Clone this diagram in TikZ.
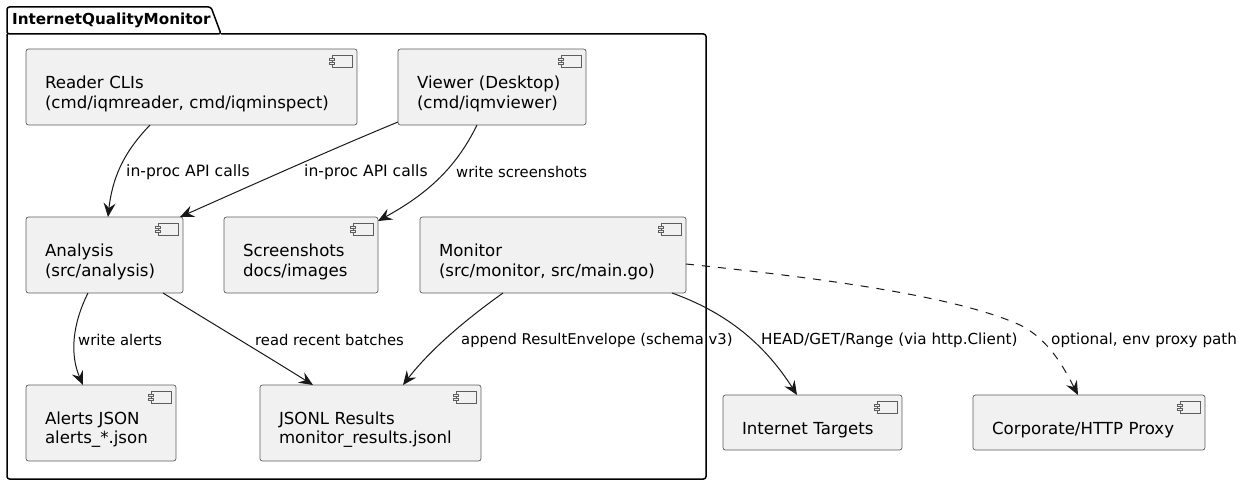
\documentclass[tikz,border=0pt]{standalone}
\usepackage{fontspec}
\setmainfont{DejaVu Sans}
\usetikzlibrary{arrows.meta,calc}
\definecolor{ink}{HTML}{181818}
\definecolor{boxfill}{HTML}{F1F1F1}
\tikzset{
  comp/.style={draw=ink!70,line width=0.7pt,fill=boxfill,rounded corners=2.5pt,inner xsep=19pt,inner ysep=0pt,outer sep=0pt,
    align=left,font=\fontsize{16.6}{19.5}\selectfont,text=black,execute at begin node={\rule{0pt}{#1}}},
  comp/.default=26pt,
  icon/.style={draw=ink!70,line width=0.5pt,fill=boxfill},
  edge/.style={draw=ink,line width=1pt,-{Stealth[length=14pt,width=12pt,inset=5pt]}},
  lab/.style={font=\fontsize{#1}{19}\selectfont,text=black,inner sep=0pt,anchor=west},
  lab/.default=14.8,
  pkgline/.style={draw=black,line width=1.5pt,line join=round}
}
\newcommand{\compicon}[1]{%
  \draw[icon] ([shift={(-25,6)}]#1.north east) rectangle ([shift={(-5,18)}]#1.north east);
  \draw[icon] ([shift={(-27.5,9)}]#1.north east) rectangle ([shift={(-22.5,11.5)}]#1.north east);
  \draw[icon] ([shift={(-27.5,13)}]#1.north east) rectangle ([shift={(-22.5,15.5)}]#1.north east);
}
\newcommand{\compbox}[7][26pt]{% name x0 y0 x1 y1 text
  \pgfmathsetmacro{\wid}{#5-#3}\pgfmathsetmacro{\hei}{#6-#4}\pgfmathsetmacro{\tw}{\wid-38}
  \node[comp=#1,minimum width=\wid pt,minimum height=\hei pt,text width=\tw pt] (#2) at ({(#3+#5)/2},{(#4+#6)/2}) {#7};
  \compicon{#2}
}
\begin{document}
\begin{tikzpicture}[x=1pt,y=-1pt]
\useasboundingbox (0,0) rectangle (1245,487);
% package
\draw[pkgline,rounded corners=2.5pt] (7,34) -- (7,7) -- (211,7) -- (221,34) -- (7,34) -- cycle;
\draw[pkgline,rounded corners=2.5pt] (221,34) -- (706,34) -- (706,479) -- (7,479) -- (7,34);
\node[inner sep=0pt,anchor=west,font=\fontsize{15.2}{19}\selectfont\bfseries] (pkg) at (12,20.5) {InternetQualityMonitor};
% components
\compbox{reader}{26}{49}{357}{125}{Reader CLIs\\(cmd/iqmreader, cmd/iqminspect)}
\compbox{viewer}{398}{49}{586}{125}{Viewer (Desktop)\\(cmd/iqmviewer)}
\compbox{analysis}{26}{217}{183}{293}{Analysis\\(src/analysis)}
\compbox{shots}{224}{217}{378}{293}{Screenshots\\docs/images}
\compbox{monitor}{420}{217}{686}{293}{Monitor\\(src/monitor, src/main.go)}
\compbox{alerts}{26}{385}{176}{461}{Alerts JSON\\alerts\_*.json}
\compbox{jsonl}{260}{385}{481}{461}{JSONL Results\\monitor\_results.jsonl}
\compbox[27pt]{targets}{723}{395}{902}{450}{Internet Targets}
\compbox[27pt]{proxy}{973}{395}{1205}{450}{Corporate/HTTP Proxy}
% connectors
\coordinate (r1) at ($(reader.south west)+(124,0)$);
\coordinate (a1) at ($(analysis.north west)+(82,0)$);
\draw[edge] (r1) .. controls (128,148) and (113,172) .. (a1);
\coordinate (v1) at ($(viewer.south west)+(0,-3)$);
\coordinate (a2) at ($(analysis.north east)+(-3,0)$);
\draw[edge] (v1) .. controls (330,150) and (250,186) .. (a2);
\coordinate (v2) at ($(viewer.south west)+(79,0)$);
\coordinate (s1) at ($(shots.north east)+(0,4)$);
\draw[edge] (v2) .. controls (455,170) and (425,195) .. (s1);
\coordinate (a3) at ($(analysis.south west)+(62,0)$);
\coordinate (al) at ($(alerts.north west)+(57,0)$);
\draw[edge] (a3) .. controls (72,325) and (70,355) .. (al);
\coordinate (a4) at ($(analysis.south west)+(137,0)$);
\coordinate (j1) at ($(jsonl.north west)+(53,0)$);
\draw[edge] (a4) .. controls (210,322) and (265,355) .. (j1);
\coordinate (m1) at ($(monitor.south west)+(83,0)$);
\coordinate (j2) at ($(jsonl.north west)+(143,0)$);
\draw[edge] (m1) .. controls (465,320) and (430,350) .. (j2);
\coordinate (m2) at ($(monitor.south west)+(252,0)$);
\coordinate (t1) at ($(targets.north west)+(74,0)$);
\draw[edge] (m2) .. controls (722,311) and (762,340) .. (t1);
\coordinate (m3) at ($(monitor.north east)+(0,47)$);
\coordinate (p1) at ($(proxy.north west)+(105,0)$);
\draw[edge,dash pattern=on 8pt off 8pt] (m3) .. controls (840,280) and (960,298) .. (1020,325) .. controls (1050,340) and (1065,370) .. (p1);
% labels
\node[lab=15.6] (l1) at (126,172) {in-proc API calls};
\node[lab=15.6] (l2) at (304,172) {in-proc API calls};
\node[lab] (l3) at (456,172) {write screenshots};
\node[lab] (l4) at (78,340) {write alerts};
\node[lab] (l5) at (255,340) {read recent batches};
\node[lab] (l6) at (461,340) {append ResultEnvelope (schema v3)};
\node[lab=15.2] (l7) at (761,340) {HEAD/GET/Range (via http.Client)};
\node[lab=15.2] (l8) at (1051,340) {optional, env proxy path};
\end{tikzpicture}
\end{document}
